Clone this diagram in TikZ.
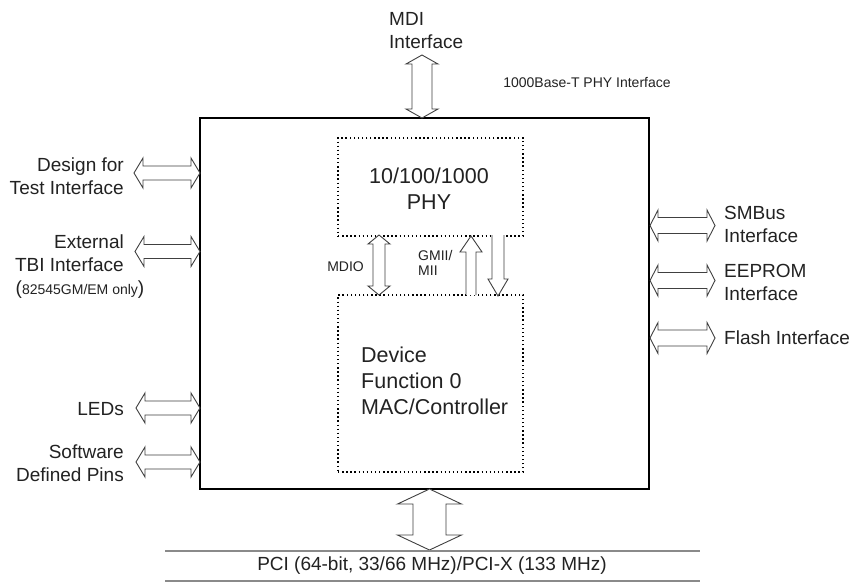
\documentclass[tikz,border=0pt]{standalone}
\usepackage{fontspec}
\setmainfont{Liberation Sans}
\definecolor{txt}{HTML}{222222}
\definecolor{arrline}{HTML}{404040}
\definecolor{busline}{HTML}{8A8A8A}
\newcommand{\hdarrow}[6]{%
  \draw[blockarrow] (#1,#3) -- ({#1+#6},{#3-#5}) -- ({#1+#6},{#3-#4}) -- ({#2-#6},{#3-#4}) -- ({#2-#6},{#3-#5}) -- (#2,#3) -- ({#2-#6},{#3+#5}) -- ({#2-#6},{#3+#4}) -- ({#1+#6},{#3+#4}) -- ({#1+#6},{#3+#5}) -- cycle;}
\newcommand{\vdarrow}[6]{%
  \draw[blockarrow] (#1,#2) -- ({#1-#5},{#2+#6}) -- ({#1-#4},{#2+#6}) -- ({#1-#4},{#3-#6}) -- ({#1-#5},{#3-#6}) -- (#1,#3) -- ({#1+#5},{#3-#6}) -- ({#1+#4},{#3-#6}) -- ({#1+#4},{#2+#6}) -- ({#1+#5},{#2+#6}) -- cycle;}
\newcommand{\uparrowshape}[6]{% x, ytip, ybottom, shaft half, head half, head length
  \draw[blockarrow] ({#1-#4},#3) -- ({#1-#4},{#2+#6}) -- ({#1-#5},{#2+#6}) -- (#1,#2) -- ({#1+#5},{#2+#6}) -- ({#1+#4},{#2+#6}) -- ({#1+#4},#3);}
\newcommand{\downarrowshape}[6]{% x, ytop, ytip, shaft half, head half, head length
  \draw[blockarrow] ({#1-#4},#2) -- ({#1-#4},{#3-#6}) -- ({#1-#5},{#3-#6}) -- (#1,#3) -- ({#1+#5},{#3-#6}) -- ({#1+#4},{#3-#6}) -- ({#1+#4},#2);}
\begin{document}
\begin{tikzpicture}[x=1pt,y=-1pt,
  blockarrow/.style={draw=arrline,line width=0.9pt,fill=white,line join=miter},
  chipbox/.style={draw=black,line width=1.8pt,inner sep=0pt},
  dotbox/.style={draw=black,line width=1.4pt,dash pattern=on 1.4pt off 2.7pt,inner sep=0pt},
  biglabel/.style={text=txt,inner sep=0pt,font=\fontsize{19}{23}\selectfont},
  innerlabel/.style={text=txt,inner sep=0pt,font=\fontsize{21.5}{26}\selectfont},
  smalllabel/.style={text=txt,inner sep=0pt,font=\fontsize{14}{15.5}\selectfont},
  bus/.style={draw=busline,line width=1.3pt}]
\useasboundingbox (0,0) rectangle (853,582);
\fill[white] (0,0) rectangle (853,582);

% boxes
\node[chipbox,minimum width=449pt,minimum height=371pt] (chip) at (424.5,303.5) {};
\node[dotbox,minimum width=185pt,minimum height=98pt] (phy) at (430.5,187) {};
\node[dotbox,minimum width=185pt,minimum height=177pt] (mac) at (430.5,383.5) {};

% inner texts
\node[innerlabel,align=center] (phytxt) at (429,189) {10/100/1000\\PHY};
\node[innerlabel,align=left,anchor=west] (mactxt) at (361,381) {Device\\Function 0\\MAC/Controller};
\node[smalllabel,anchor=east] (mdio) at (364,267) {MDIO};
\node[smalllabel,align=left,anchor=west] (gmii) at (418,263) {GMII/\\MII};

% top
\node[biglabel,align=left,anchor=west] (mdi) at (389,31) {MDI\\Interface};
\node[smalllabel] (base) at (587,82) {1000Base-T PHY Interface};
\vdarrow{422}{55}{118}{10}{16}{9}

% internal arrows
\vdarrow{379}{235}{295}{6}{11}{9}
\uparrowshape{471}{236}{295}{5}{11}{16}
\downarrowshape{498}{235}{296}{6}{10}{17}

% left side
\node[biglabel,align=right,anchor=east] (dft) at (124,176) {Design for\\Test Interface};
\node[biglabel,align=right,anchor=east] (tbi) at (124,253.5) {External\\TBI Interface};
\node[text=txt,inner sep=0pt,anchor=center] (tbinote) at (80,290) {\fontsize{19}{23}\selectfont(\fontsize{14}{16}\selectfont 82545GM/EM only\fontsize{19}{23}\selectfont)};
\node[biglabel,anchor=east] (leds) at (124,409) {LEDs};
\node[biglabel,align=right,anchor=east] (sdp) at (124,463.5) {Software\\Defined Pins};
\hdarrow{134}{200}{173}{7}{15}{9}
\hdarrow{135}{200}{251.5}{7}{15}{9}
\hdarrow{136}{200}{408}{7}{15}{9}
\hdarrow{136}{200}{462}{7}{15}{9}

% right side
\node[biglabel,align=left,anchor=west] (smb) at (724,224) {SMBus\\Interface};
\node[biglabel,align=left,anchor=west] (eep) at (724,282) {EEPROM\\Interface};
\node[biglabel,anchor=west] (flash) at (724,338) {Flash Interface};
\hdarrow{650}{715}{225.5}{8}{15.5}{8}
\hdarrow{650}{715}{280.5}{8}{15.5}{8}
\hdarrow{650}{715}{338}{8}{15.5}{8}

% bottom bus
\vdarrow{429.5}{489}{550}{16.5}{32}{15}
\coordinate (busAL) at (165,551);
\coordinate (busAR) at (700,551);
\coordinate (busBL) at (165,581);
\coordinate (busBR) at (700,581);
\draw[bus] (busAL) -- (busAR);
\draw[bus] (busBL) -- (busBR);
\node[biglabel] (pci) at (432,566) {PCI (64-bit, 33/66 MHz)/PCI-X (133 MHz)};
\end{tikzpicture}
\end{document}
